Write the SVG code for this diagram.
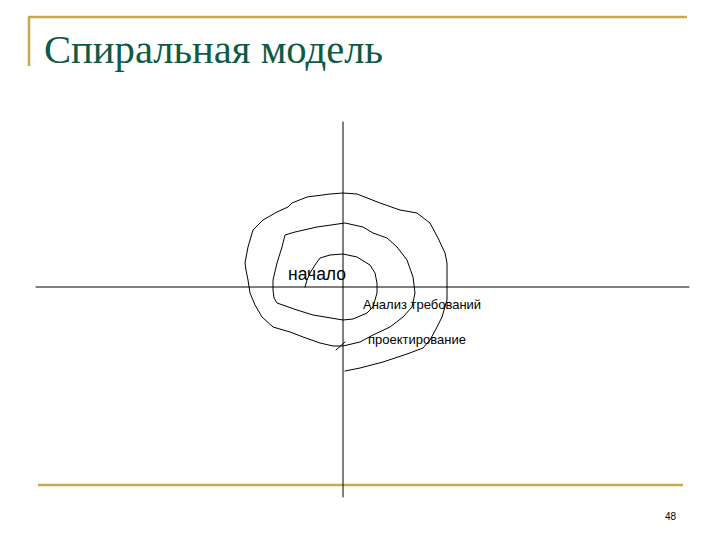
<svg xmlns="http://www.w3.org/2000/svg" width="720" height="540" viewBox="0 0 720 540">
<style>
.gold{stroke:#c9a94e;stroke-width:2.5;fill:none}
.ink{stroke:#000;stroke-width:1;fill:none;stroke-linejoin:round;stroke-linecap:round}
.lbl{font-family:"Liberation Sans",Arial,sans-serif;fill:#000}
</style>
<rect width="720" height="540" fill="#fff"/>
<g id="frame">
<polyline class="gold" points="29,66 29,17 687,17"/>
<line class="gold" x1="38" y1="485" x2="683" y2="485"/>
</g>
<g id="title">
<text x="44" y="63" font-family="Liberation Serif,'Times New Roman',serif" font-size="39" fill="#0e5a45" textLength="339" lengthAdjust="spacingAndGlyphs">Спиральная модель</text>
</g>
<g id="axes">
<line class="ink" x1="36" y1="287" x2="689" y2="287"/>
<line class="ink" x1="343" y1="122" x2="343" y2="497"/>
</g>
<g id="spiral">
<polyline class="ink" points="305,287 307,280 310,273 315,265 320,258 330,255 343,254 357,257 370,265 375,273 377,283 377,293 373,307 367,313 353,319 343,320 337,319 313,315 297,310 277,303 274,298 273,290 273,280 277,263 282,247 285,235 295,232 317,227 345,223 363,227 373,233 387,238 397,247 407,260 413,277 415,293 412,307 403,317 390,327 373,335 360,342 343,346 333,346 320,343 303,337 290,332 273,327 262,317 255,305 250,293 248,280 246,270 245,263 248,247 253,230 263,220 277,212 288,207 292,203 307,197 330,194 343,193 357,194 380,203 400,210 417,213 430,223 438,238 445,253 447,263 447,300 442,317 437,327 430,340 423,348 407,354 383,362 360,368 345,371"/>
<line class="ink" x1="336" y1="350" x2="345" y2="342"/>
</g>
<g id="labels">
<text class="lbl" x="288" y="280" font-size="17.5">начало</text>
<text class="lbl" x="363" y="309" font-size="13">Анализ требований</text>
<text class="lbl" x="368" y="344" font-size="13">проектирование</text>
<text class="lbl" x="665" y="520" font-size="10">48</text>
</g>
</svg>
